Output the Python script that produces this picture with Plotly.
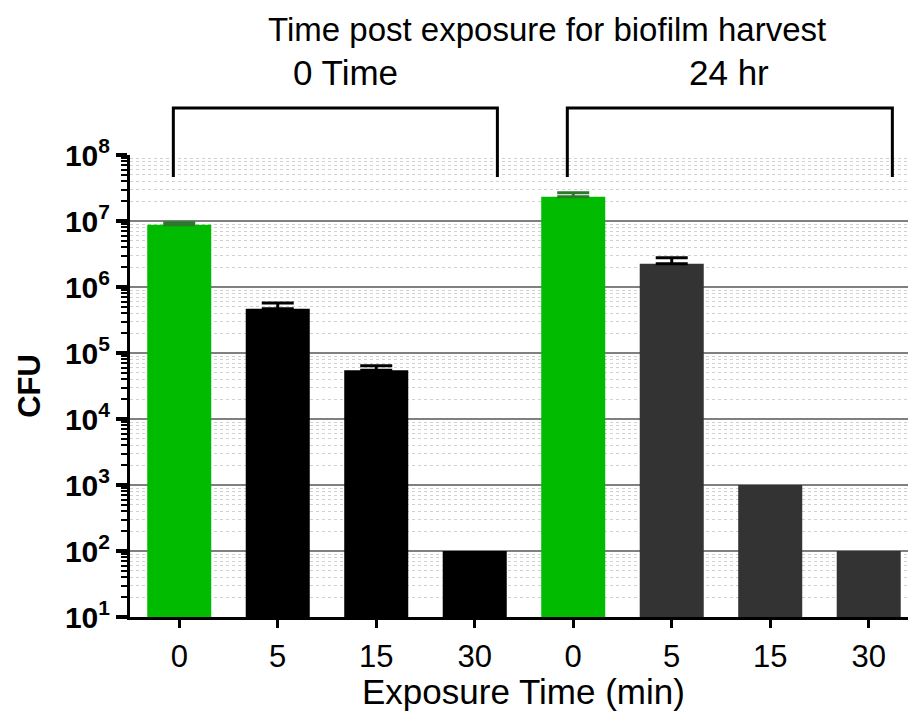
import plotly.graph_objects as go

# ---- data ----
categories = ["0", "5", "15", "30", "0", "5", "15", "30"]
cfu = [8.8e6, 4.7e5, 5.5e4, 100, 2.33e7, 2.25e6, 1000, 100]
err_up = [0.6e6, 1.0e5, 0.9e4, None, 3.5e6, 5.3e5, None, None]
bar_group = ["green", "black", "black", "black", "green", "gray", "gray", "gray"]
group_labels = ["0 Time", "24 hr"]
title_text = "Time post exposure for biofilm harvest"
x_title = "Exposure Time (min)"
y_title = "<b>CFU</b>"
y_tickvals = [1e1, 1e2, 1e3, 1e4, 1e5, 1e6, 1e7, 1e8]
y_ticktext = ["<b>10<sup>%d</sup></b>" % e for e in range(1, 9)]

colors = {"green": "#00bb00", "black": "#000000", "gray": "#333333"}
err_colors = {"green": "#2a7a2a", "black": "#000000", "gray": "#000000"}

FONT = "Liberation Sans, Arial, sans-serif"

fig = go.Figure()
xpos = list(range(len(categories)))
for g in ["green", "black", "gray"]:
    for has_err in [True, False]:
        idx = [i for i in xpos if bar_group[i] == g and (err_up[i] is not None) == has_err]
        if not idx:
            continue
        kw = {}
        if has_err:
            kw["error_y"] = dict(type="data", symmetric=False,
                                 array=[err_up[i] for i in idx],
                                 arrayminus=[0 for i in idx],
                                 color=err_colors[g], thickness=3, width=16)
        fig.add_trace(go.Bar(
            x=[xpos[i] for i in idx],
            y=[cfu[i] for i in idx],
            width=0.65,
            marker=dict(color=colors[g], line=dict(width=0)),
            showlegend=False,
            **kw,
        ))

# page has an 8px body margin; figure sized so the page is filled
fig.update_layout(
    width=908, height=719,
    margin=dict(l=122, r=0, t=147, b=110),
    plot_bgcolor="white", paper_bgcolor="white",
    barmode="overlay",
    font=dict(family=FONT, color="black"),
)

fig.update_xaxes(
    range=[-0.5, 7.48],
    tickmode="array", tickvals=xpos, ticktext=categories,
    tickfont=dict(size=31, family=FONT),
    ticks="outside", ticklen=8, tickwidth=3, tickcolor="black",
    ticklabelstandoff=2,
    showline=True, linecolor="black", linewidth=3,
    showgrid=False, zeroline=False,
)

fig.update_yaxes(
    type="log", range=[1, 8],
    tickmode="array", tickvals=y_tickvals, ticktext=y_ticktext,
    tickfont=dict(size=30, family=FONT),
    ticks="outside", ticklen=11, tickwidth=4, tickcolor="black",
    showline=True, linecolor="black", linewidth=3,
    showgrid=True, gridcolor="#808080", gridwidth=2,
    zeroline=False,
    minor=dict(dtick="D1", ticks="outside", ticklen=6, tickwidth=2, tickcolor="black",
               showgrid=True, gridcolor="#d0d0d0", gridwidth=1, griddash="dot"),
    title=dict(text=y_title, font=dict(size=31, family=FONT), standoff=16),
)

# brackets (y in page pixels converted to paper fraction of the plot area)
def yp(py):
    return (617 - py) / 462.0

brackets = [(-0.06, 3.23), (3.94, 7.24)]
for x0, x1 in brackets:
    fig.add_shape(type="path", xref="x", yref="paper",
                  path="M %f,%f L %f,%f L %f,%f L %f,%f" % (x0, yp(177), x0, yp(108), x1, yp(108), x1, yp(177)),
                  line=dict(color="black", width=3), layer="above")

fig.add_annotation(x=3.73, y=yp(30), xref="x", yref="paper", text=title_text,
                   showarrow=False, font=dict(size=33, family=FONT), xanchor="center", yanchor="middle")
for lbl, xc in zip(group_labels, [1.685, 5.58]):
    fig.add_annotation(x=xc, y=yp(72), xref="x", yref="paper", text=lbl,
                       showarrow=False, font=dict(size=35, family=FONT), xanchor="center", yanchor="middle")

fig.add_annotation(x=3.5, y=yp(691), xref="x", yref="paper", text=x_title,
                   showarrow=False, font=dict(size=35, family=FONT), xanchor="center", yanchor="middle")

fig.write_html("out.html")
